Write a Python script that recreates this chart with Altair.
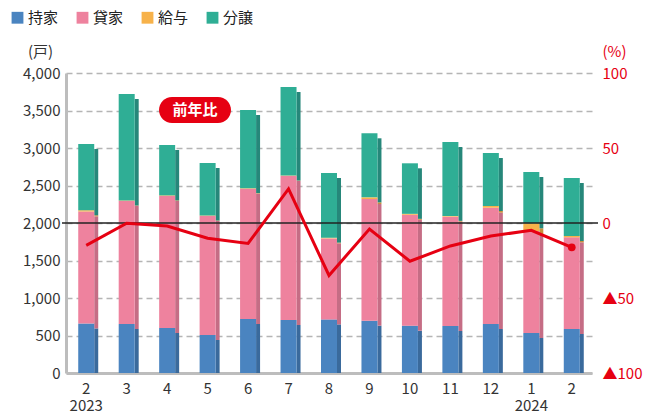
import altair as alt
import pandas as pd

# ---- data ----
months = ["2|2023", "3", "4", "5", "6", "7", "8", "9", "10", "11", "12", "1|2024", "2"]
types = ["持家", "貸家", "給与", "分譲"]
owner = [661, 653, 600, 507, 720, 707, 715, 698, 631, 627, 653, 533, 587]
rental = [1494, 1640, 1760, 1586, 1738, 1920, 1080, 1622, 1479, 1458, 1551, 1360, 1222]
issued = [15, 7, 8, 7, 7, 6, 10, 22, 12, 10, 23, 103, 18]
sale = [883, 1420, 672, 700, 1042, 1180, 862, 854, 674, 985, 706, 684, 773]
yoy = [-14.9, -0.2, -2.0, -10.2, -13.6, 22.7, -35.0, -4.0, -25.5, -15.3, -8.7, -4.9, -16.2]

colors = ["#4a84c0", "#ee829e", "#f7b24a", "#2fae95"]
dark = ["#3a6a9c", "#c56d85", "#c98f3a", "#26877a"]

rows = []
for i, m in enumerate(months):
    for j, (t, series) in enumerate(zip(types, [owner, rental, issued, sale])):
        rows.append({"month": m, "type": t, "value": series[i], "ord": j, "dark": dark[j]})
bars_df = pd.DataFrame(rows)
line_df = pd.DataFrame({"month": months, "yoy": yoy, "idx": list(range(len(months)))})

FONT = "Noto Sans CJK JP"
RED = "#e60012"

xenc = alt.X("month:N", sort=months,
             scale=alt.Scale(paddingInner=0, paddingOuter=0),
             axis=alt.Axis(title=None, labelAngle=0, labelExpr="split(datum.label, '|')",
                           labelFontSize=15, labelColor="#333", labelPadding=8,
                           ticks=False, domainColor="#bdbdbd", domainWidth=3, labelFont=FONT))

yscale = alt.Scale(domain=[0, 4000])
left_axis = alt.Axis(values=list(range(0, 4001, 500)), format=",.0f", title="(戸)",
                     titleAngle=0, titleX=-26, titleY=-14, titleFontSize=15,
                     titleFontWeight="normal", titleColor="#333", titleFont=FONT,
                     labelFontSize=15, labelColor="#333", labelFont=FONT, labelPadding=6,
                     ticks=False, domainColor="#bdbdbd", domainWidth=3,
                     grid=True, gridDash=[6, 4], gridColor="#b5b5b5", gridWidth=1.3)

side = alt.Chart(bars_df).mark_bar(size=4, xOffset=10, yOffset=5, clip=True).encode(
    x=xenc,
    y=alt.Y("value:Q", stack="zero", scale=yscale, axis=left_axis),
    color=alt.Color("dark:N", scale=None),
    order=alt.Order("ord:Q"),
)

front = alt.Chart(bars_df).mark_bar(size=16).encode(
    x=xenc,
    y=alt.Y("value:Q", stack="zero", scale=yscale, axis=left_axis),
    color=alt.Color("type:N", scale=alt.Scale(domain=types, range=colors),
                    legend=alt.Legend(title=None, orient="none", legendX=-56, legendY=-63,
                                      direction="horizontal", symbolType="square",
                                      symbolSize=140, symbolStrokeWidth=0, labelFontSize=15,
                                      labelFont=FONT, labelColor="#222", columnPadding=16,
                                      labelOffset=3)),
    order=alt.Order("ord:Q"),
)

zero = alt.Chart(pd.DataFrame({"v": [2000]})).mark_rule(color="#222", strokeWidth=1.3).encode(
    y=alt.Y("v:Q", scale=yscale, axis=left_axis),
    x=alt.value(-4), x2=alt.value(532),
)

bars = alt.layer(side, front, zero)

yr = alt.Scale(domain=[-100, 100])
right_axis = alt.Axis(orient="right", values=[-100, -50, 0, 50, 100], grid=False,
                      labelExpr="datum.value < 0 ? '▲' + (-datum.value) : datum.value",
                      title="(%)", titleAngle=0, titleX=22, titleY=-14, titleFontSize=15,
                      titleFontWeight="normal", titleColor=RED, titleFont=FONT,
                      labelFontSize=15, labelColor=RED, labelFont=FONT, labelPadding=10,
                      ticks=False, domain=False)
line = alt.Chart(line_df).mark_line(color=RED, strokeWidth=3).encode(
    x=alt.X("month:N", sort=months),
    y=alt.Y("yoy:Q", scale=yr, axis=right_axis),
)
dot = alt.Chart(line_df).transform_filter(f"datum.idx == {len(months) - 1}").mark_circle(
    color=RED, size=60, opacity=1).encode(
    x=alt.X("month:N", sort=months),
    y=alt.Y("yoy:Q", scale=yr, axis=right_axis),
)

ann_df = pd.DataFrame({"t": ["前年比"]})
pill = alt.Chart(ann_df).mark_rect(color=RED, cornerRadius=13).encode(
    x=alt.value(93), x2=alt.value(165), y=alt.value(24), y2=alt.value(50))
pill_text = alt.Chart(ann_df).mark_text(color="white", fontSize=15, fontWeight="bold",
                                        font=FONT).encode(
    x=alt.value(129), y=alt.value(37), text="t:N")

right = alt.layer(line, dot)

chart = alt.layer(bars, right, pill, pill_text).resolve_scale(y="independent").properties(
    width=526, height=300,
    autosize=alt.AutoSizeParams(type="none"),
    padding={"left": 58, "top": 65, "right": 65, "bottom": 44},
).configure(font=FONT, view=alt.ViewConfig(stroke=None))

chart.save("out.html", embed_options={"renderer": "svg", "actions": False})
